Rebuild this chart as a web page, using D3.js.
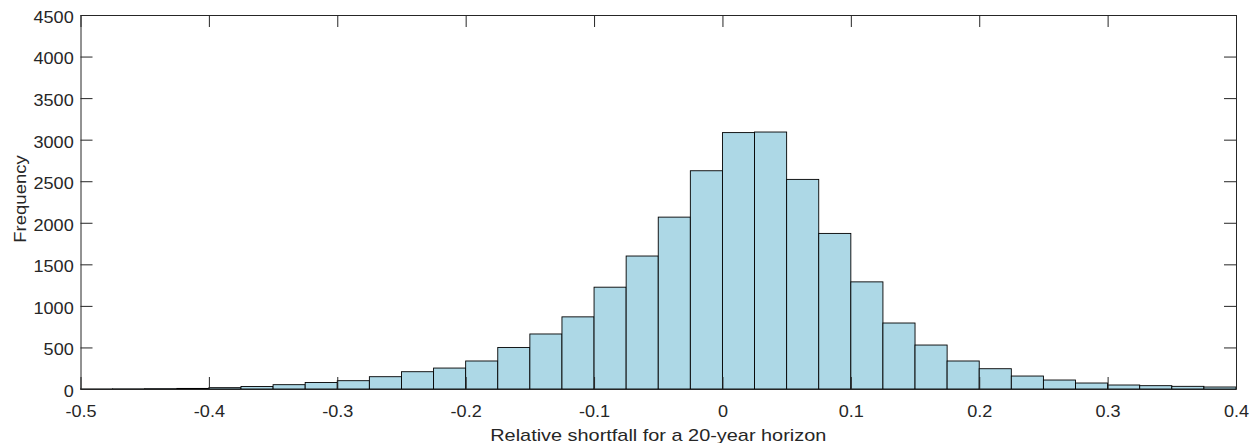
<!DOCTYPE html>
<html>
<head>
<meta charset="utf-8">
<script src="https://cdn.jsdelivr.net/npm/d3@7"></script>
<style>
  body { margin: 0; background: #fff; }
  svg { display: block; }
</style>
</head>
<body>
<svg width="1252" height="443"></svg>
<script>
// bin left edges (width 0.025) and counts
var binStart = -0.5;
var binWidth = 0.025;
var counts = [1, 2, 4, 7, 16, 30, 52, 78, 100, 148, 208, 252,
              337, 500, 662, 868, 1225, 1600, 2068, 2626, 3085, 3092,
              2522, 1872, 1289, 794, 529, 337, 244, 156, 108, 72,
              48, 40, 32, 24];
var xTicks = [-0.5, -0.4, -0.3, -0.2, -0.1, 0, 0.1, 0.2, 0.3, 0.4];
var yTicks = [0, 500, 1000, 1500, 2000, 2500, 3000, 3500, 4000, 4500];

var bins = counts.map(function (c, i) {
    var x0 = binStart + i * binWidth;
    return { x0: x0, x1: x0 + binWidth, count: c };
});

var svg = d3.select("svg");
var plotLeft = 80.5, plotRight = 1236, plotTop = 15, plotBottom = 389;
var axisColor = "#262626";
var font = "'Liberation Sans', Arial, Helvetica, sans-serif";
var stretch = 1.13; // the reference text is set a little wide

var x = d3.scaleLinear().domain([-0.5, 0.4]).range([plotLeft, plotRight]);
var y = d3.scaleLinear().domain([0, 4500]).range([plotBottom, plotTop]);

// bars
svg.append("g")
    .selectAll("rect")
    .data(bins)
    .enter().append("rect")
    .attr("x", function (d) { return x(d.x0); })
    .attr("y", function (d) { return y(d.count); })
    .attr("width", function (d) { return x(d.x1) - x(d.x0); })
    .attr("height", function (d) { return y(0) - y(d.count); })
    .attr("fill", "#add8e6")
    .attr("stroke", "#000")
    .attr("stroke-width", 0.9);

function fmt(d) {
    return d === 0 ? "0" : String(+d.toFixed(1));
}

var xAxis = svg.append("g")
    .attr("transform", "translate(0," + plotBottom + ")")
    .call(d3.axisBottom(x).tickValues(xTicks).tickFormat(fmt)
        .tickSizeInner(-12).tickSizeOuter(0).tickPadding(17));

var xTop = svg.append("g")
    .attr("transform", "translate(0," + plotTop + ")")
    .call(d3.axisTop(x).tickValues(xTicks).tickFormat("")
        .tickSizeInner(-12).tickSizeOuter(0));

var yAxis = svg.append("g")
    .attr("transform", "translate(" + plotLeft + ",0)")
    .call(d3.axisLeft(y).tickValues(yTicks).tickFormat(d3.format("d"))
        .tickSizeInner(-12).tickSizeOuter(0).tickPadding(6));

var yRight = svg.append("g")
    .attr("transform", "translate(" + plotRight + ",0)")
    .call(d3.axisRight(y).tickValues(yTicks).tickFormat("")
        .tickSizeInner(-12).tickSizeOuter(0));

[xAxis, xTop, yAxis, yRight].forEach(function (g) {
    g.selectAll("path, line").attr("stroke", axisColor).attr("stroke-width", 1);
    g.selectAll("text")
        .attr("fill", axisColor)
        .attr("transform", "scale(" + stretch + ",1)")
        .style("font-family", font)
        .style("font-size", "16px");
});
yAxis.selectAll("text").attr("dy", "0.46em");

// axis titles
svg.append("text")
    .attr("transform", "translate(" + ((plotLeft + plotRight) / 2) + ",440.5) scale(1.17,1)")
    .attr("text-anchor", "middle")
    .attr("fill", axisColor)
    .style("font-family", font)
    .style("font-size", "17px")
    .text("Relative shortfall for a 20-year horizon");

svg.append("text")
    .attr("transform", "translate(26,199) rotate(-90) scale(1.09,1)")
    .attr("text-anchor", "middle")
    .attr("fill", axisColor)
    .style("font-family", font)
    .style("font-size", "17px")
    .text("Frequency");
</script>
</body>
</html>
